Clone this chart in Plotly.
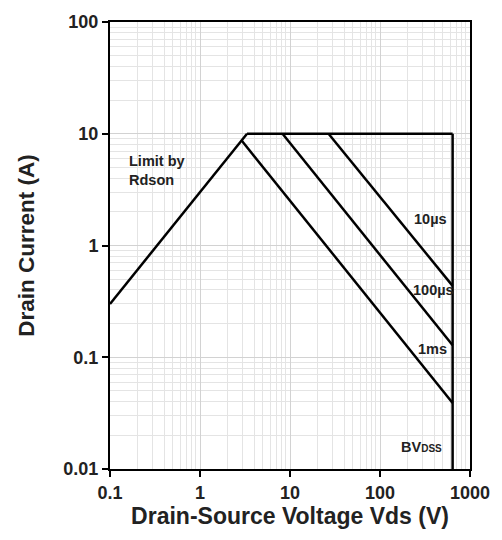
import plotly.graph_objects as go

# Data (Vds in V, Id in A)
rdson_v = [0.1, 3.33]
rdson_i = [0.3, 10]
top_v = [3.33, 641]
top_i = [10, 10]
bv_v = [641, 641]
bv_i = [10, 0.01]
dc_v = [2.9, 641]
dc_i = [8.7, 0.039]
ms1_v = [8.26, 641]
ms1_i = [10, 0.128]
us100_v = [26.8, 641]
us100_i = [10, 0.435]

x_tickvals = [0.1, 1, 10, 100, 1000]
x_ticktext = ["0.1", "1", "10", "100", "1000"]
y_tickvals = [0.01, 0.1, 1, 10, 100]
y_ticktext = ["0.01", "0.1", "1", "10", "100"]

FONT = "Liberation Sans, Arial, sans-serif"

fig = go.Figure()
for xs, ys in [(rdson_v, rdson_i), (top_v, top_i), (bv_v, bv_i),
               (dc_v, dc_i), (ms1_v, ms1_i), (us100_v, us100_i)]:
    fig.add_trace(go.Scatter(x=xs, y=ys, mode="lines",
                             line=dict(color="black", width=2.5),
                             showlegend=False, hoverinfo="skip"))

def ann(x, y, text, xanchor="left"):
    fig.add_annotation(x=x, y=y, xref="x", yref="y", text=text, showarrow=False,
                       xanchor=xanchor, yanchor="middle", align="left",
                       font=dict(family=FONT, size=14.5, color="#222"))

ann(-0.81, 0.675, "<b>Limit by<br>Rdson</b>")
ann(2.35, 0.24, "<b>10µs</b>")
ann(2.34, -0.398, "<b>100µs</b>")
ann(2.405, -0.93, "<b>1ms</b>")
ann(2.215, -1.805, "<b>BV<span style='font-size:10px'>DSS</span></b>")

axis_common = dict(
    type="log", showline=True, linecolor="black", linewidth=2, mirror=True,
    ticks="outside", ticklen=6, tickwidth=1.5, tickcolor="black",
    showgrid=True, gridcolor="#d2d2d2", gridwidth=1,
    tickfont=dict(family=FONT, size=18, color="#222"),
    minor=dict(dtick="D1", showgrid=True, gridcolor="#e4e4e4", gridwidth=1, ticks=""),
    zeroline=False,
)

fig.update_layout(
    width=502, height=540,
    margin=dict(l=110, r=30, t=16, b=71),
    paper_bgcolor="white", plot_bgcolor="white",
    xaxis=dict(range=[-1, 3], tickvals=x_tickvals,
               ticktext=["<b>%s</b>" % t for t in x_ticktext],
               title=dict(text="<b>Drain-Source Voltage Vds (V)</b>", standoff=4,
                          font=dict(family=FONT, size=23, color="#222")),
               **axis_common),
    yaxis=dict(range=[-2, 2], tickvals=y_tickvals,
               ticktext=["<b>%s</b>" % t for t in y_ticktext],
               title=dict(text="<b>Drain Current (A)</b>", standoff=22,
                          font=dict(family=FONT, size=22.5, color="#222")),
               **axis_common),
)

fig.write_html("out.html")
